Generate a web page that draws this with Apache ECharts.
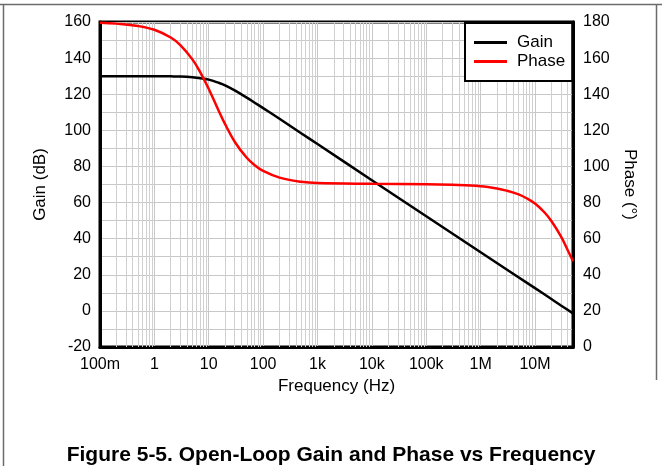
<!DOCTYPE html>
<html>
<head>
<meta charset="utf-8">
<script src="https://cdn.jsdelivr.net/npm/echarts@6/dist/echarts.min.js"></script>
<style>
  html, body { margin: 0; padding: 0; background: #fff; }
  #chart { width: 662px; height: 466px; }
</style>
</head>
<body>
<div id="chart"></div>
<script>
// Open-loop gain (dB) versus frequency (Hz)
const gainFreq = [0.1, 1, 2, 3, 5, 7, 10, 15, 20, 30, 50, 70, 100, 200, 500, 1e3, 1e4, 1e5, 1e6, 1e7, 2e7, 3e7, 5e7];
const gainDb   = [130.0, 130.0, 129.9, 129.8, 129.4, 128.9, 128.1, 126.4, 124.9, 122.1, 118.1, 115.3, 112.3, 106.4, 98.4, 92.4, 72.4, 52.4, 32.5, 12.6, 6.6, 3.0, -1.4];

// Open-loop phase (degrees) versus frequency (Hz)
const phaseFreq = [0.1, 0.2, 0.5, 1, 2, 3, 5, 7, 10, 15, 20, 30, 50, 70, 100, 200, 500, 1e3, 1e4, 1e5, 3e5, 1e6, 2e6, 3e6, 5e6, 7e6, 1e7, 1.5e7, 2e7, 3e7, 4e7, 5e7];
const phaseDeg  = [179.6, 179.1, 177.8, 175.7, 171.4, 167.2, 159.3, 152.1, 142.9, 131.3, 123.4, 113.7, 104.8, 100.7, 97.5, 93.8, 91.5, 90.8, 90.4, 90.2, 89.8, 89.0, 87.8, 86.6, 84.5, 82.4, 79.5, 74.5, 69.8, 61.3, 53.6, 47.5];

// Decade tick labels, from 100 mHz upward
const freqTickLabels = ['100m', '1', '10', '100', '1k', '10k', '100k', '1M', '10M'];

const FREQ_MIN = 0.1, FREQ_MAX = 5e7;
const FONT = '"Liberation Sans", Arial, sans-serif';
const GRID_GREY = '#c8c8c8';

// Vertical grid lines at 2..9 within each decade
const minorFreqLines = [];
for (let e = -1; e <= 7; e++) {
  for (let k = 2; k <= 9; k++) {
    const f = k * Math.pow(10, e);
    if (f < FREQ_MAX) minorFreqLines.push({ xAxis: f });
  }
}

const chart = echarts.init(document.getElementById('chart'), null, { renderer: 'canvas' });

chart.setOption({
  animation: false,
  backgroundColor: '#fff',
  textStyle: { fontFamily: FONT },
  grid: {
    left: 100, top: 22, width: 473, height: 325,
    show: true, borderColor: '#000', borderWidth: 3, backgroundColor: 'transparent'
  },
  legend: {
    data: ['Gain', 'Phase'],
    orient: 'vertical',
    left: 465, top: 23,
    z: 20,
    backgroundColor: '#fff',
    borderColor: '#000', borderWidth: 2, borderRadius: 0,
    padding: [10, 7, 10, 9],
    itemGap: 0,
    itemWidth: 33, itemHeight: 3,
    icon: 'rect',
    textStyle: { fontFamily: FONT, fontSize: 17, color: '#000', lineHeight: 19, padding: [0, 0, 0, 5] }
  },
  xAxis: {
    type: 'log', logBase: 10, min: FREQ_MIN, max: FREQ_MAX, splitNumber: 10,
    name: 'Frequency (Hz)', nameLocation: 'middle', nameGap: 28,
    nameTextStyle: { fontFamily: FONT, fontSize: 17, color: '#000' },
    axisLine: { show: true, onZero: false, lineStyle: { color: '#000', width: 3 } },
    axisTick: { show: false },
    axisLabel: {
      fontFamily: FONT, fontSize: 16, color: '#000', margin: 10,
      showMaxLabel: false,
      formatter: function (v) {
        const lg = Math.log10(v);
        const e = Math.round(lg);
        if (Math.abs(lg - e) > 1e-6) return '';
        return freqTickLabels[e + 1] || '';
      }
    },
    splitLine: { show: true, lineStyle: { color: GRID_GREY, width: 1 } }
  },
  yAxis: [
    {
      type: 'value', min: -20, max: 160, interval: 10, position: 'left',
      name: 'Gain (dB)', nameLocation: 'middle', nameGap: 51, nameRotate: 90,
      nameTextStyle: { fontFamily: FONT, fontSize: 17, color: '#000' },
      axisLine: { show: true, lineStyle: { color: '#000', width: 3 } },
      axisTick: { show: false },
      axisLabel: {
        fontFamily: FONT, fontSize: 16, color: '#000', margin: 9,
        formatter: v => (v % 20 === 0 ? String(v) : '')
      },
      splitLine: { show: true, lineStyle: { color: GRID_GREY, width: 1 } }
    },
    {
      type: 'value', min: 0, max: 180, interval: 20, position: 'right',
      name: 'Phase (°)', nameLocation: 'middle', nameGap: 48, nameRotate: -90,
      nameTextStyle: { fontFamily: FONT, fontSize: 17, color: '#000' },
      axisLine: { show: true, lineStyle: { color: '#000', width: 3 } },
      axisTick: { show: false },
      axisLabel: { fontFamily: FONT, fontSize: 16, color: '#000', margin: 10 },
      splitLine: { show: false }
    }
  ],
  series: [
    {
      name: 'minorGrid', type: 'line', data: [], silent: true,
      markLine: {
        silent: true, symbol: 'none', animation: false,
        label: { show: false },
        lineStyle: { color: '#d0d0d0', width: 1, type: 'solid' },
        emphasis: { disabled: true },
        data: minorFreqLines
      }
    },
    {
      name: 'Gain', type: 'line', yAxisIndex: 0, z: 10,
      showSymbol: false, smooth: 0.4,
      lineStyle: { color: '#000', width: 2.5 },
      itemStyle: { color: '#000' },
      data: gainFreq.map((f, i) => [f, gainDb[i]])
    },
    {
      name: 'Phase', type: 'line', yAxisIndex: 1, z: 11,
      showSymbol: false, smooth: 0.4,
      lineStyle: { color: '#ff0000', width: 2.5 },
      itemStyle: { color: '#ff0000' },
      data: phaseFreq.map((f, i) => [f, phaseDeg[i]])
    }
  ],
  graphic: [
    { type: 'line', shape: { x1: 0, y1: 4.5, x2: 662, y2: 4.5 }, style: { stroke: '#6b6b6b', lineWidth: 1.5 }, silent: true },
    { type: 'line', shape: { x1: 3.5, y1: 4.5, x2: 3.5, y2: 466 }, style: { stroke: '#6b6b6b', lineWidth: 1.5 }, silent: true },
    { type: 'line', shape: { x1: 656.5, y1: 4.5, x2: 656.5, y2: 380 }, style: { stroke: '#6b6b6b', lineWidth: 1.5 }, silent: true },
    {
      type: 'text', left: 'center', top: 445, silent: true,
      style: {
        text: 'Figure 5-5. Open-Loop Gain and Phase vs Frequency',
        fontFamily: FONT, fontSize: 21, fontWeight: 'bold', fill: '#000'
      }
    }
  ]
});
</script>
</body>
</html>
